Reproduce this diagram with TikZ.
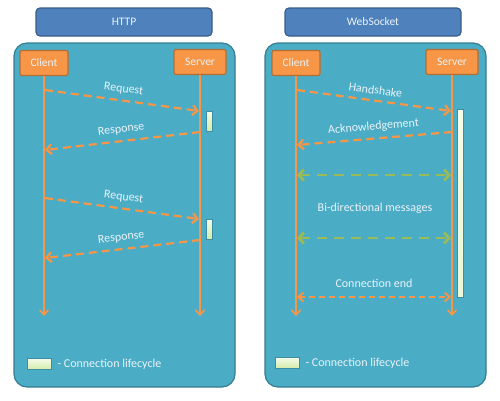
\documentclass[tikz,border=0pt]{standalone}
\usepackage{fontspec}
\setmainfont{Carlito}
\usetikzlibrary{arrows.meta}

\definecolor{titlefill}{HTML}{4F81BD}
\definecolor{titleline}{HTML}{385D8A}
\definecolor{panelfill}{HTML}{4BACC6}
\definecolor{panelline}{HTML}{357D91}
\definecolor{actorfill}{HTML}{F79646}
\definecolor{actorline}{HTML}{B66D31}
\definecolor{msggreen}{HTML}{9BBB59}
\definecolor{bartop}{HTML}{F5FBE8}
\definecolor{barbottom}{HTML}{D2ECAA}
\definecolor{barline}{HTML}{3D8EA5}
\definecolor{labeltext}{HTML}{EAF3F8}

\begin{document}
\begin{tikzpicture}[x=1pt,y=-1pt,
    titlebox/.style={draw=titleline,fill=titlefill,line width=1.2pt,rounded corners=4pt,
        minimum width=176pt,minimum height=28pt,text=labeltext,font=\fontsize{11.5}{13}\selectfont},
    panel/.style={draw=panelline,fill=panelfill,line width=1.2pt,rounded corners=13pt},
    actor/.style={draw=actorline,fill=actorfill,line width=1.2pt,rounded corners=2pt,
        minimum height=25pt,text=labeltext,font=\fontsize{11.5}{13}\selectfont},
    life/.style={draw=actorfill,line width=1.6pt,-{Straight Barb[length=5pt,width=9pt]}},
    msg/.style={draw=actorfill,line width=2.2pt,dash pattern=on 8pt off 5pt,
        -{Straight Barb[length=5pt,width=10pt]}},
    bimsg/.style={draw=msggreen,line width=2.8pt,dash pattern=on 10pt off 7pt,
        {Straight Barb[length=5pt,width=11pt]}-{Straight Barb[length=5pt,width=11pt]}},
    endmsg/.style={draw=actorfill,line width=1.9pt,dash pattern=on 6pt off 4pt,
        {Straight Barb[length=5pt,width=9pt]}-{Straight Barb[length=5pt,width=9pt]}},
    lifebar/.style={draw=barline,line width=0.5pt,top color=bartop,bottom color=barbottom,
        minimum width=6pt,inner sep=0pt},
    lbl/.style={text=labeltext,font=\fontsize{12}{14}\selectfont}]
\useasboundingbox (0,0) rectangle (500,400);

% HTTP
\node[titlebox] (httptitle) at (124,22) {HTTP};
\draw[panel] (14,43) rectangle (235,387);
\node[actor,minimum width=48pt] (hclient) at (44,63) {Client};
\node[actor,minimum width=52pt] (hserver) at (200,62) {Server};
\coordinate (hcend) at (44,316);
\coordinate (hsend) at (200,316);
\draw[life] (hclient.south) -- (hcend);
\draw[life] (hserver.south) -- (hsend);

\coordinate (hreqa) at (45,90);   \coordinate (hreqb) at (199,111);
\coordinate (hresa) at (200,132); \coordinate (hresb) at (45,150);
\coordinate (hreqc) at (45,198);  \coordinate (hreqd) at (199,219);
\coordinate (hresc) at (200,240); \coordinate (hresd) at (45,258);
\node[lifebar,minimum height=20pt] (hbarone) at (209,121) {};
\node[lifebar,minimum height=20pt] (hbartwo) at (209,229) {};
\draw[msg] (hreqa) -- node[lbl,sloped,above=2pt] {Request} (hreqb);
\draw[msg] (hresa) -- node[lbl,sloped,above=2pt] {Response} (hresb);
\draw[msg] (hreqc) -- node[lbl,sloped,above=2pt] {Request} (hreqd);
\draw[msg] (hresc) -- node[lbl,sloped,above=2pt] {Response} (hresd);

\node[lifebar,minimum width=24pt,minimum height=11pt] (hkey) at (39,364) {};
\node[lbl,anchor=west] (hkeytext) at (54,364) {- Connection lifecycle};

% WebSocket
\node[titlebox] (wstitle) at (373,22) {WebSocket};
\draw[panel] (265,43) rectangle (486,387);
\node[actor,minimum width=48pt] (wclient) at (296,63) {Client};
\node[actor,minimum width=52pt] (wserver) at (452,62) {Server};
\coordinate (wcend) at (296,316);
\coordinate (wsend) at (452,316);
\draw[life] (wclient.south) -- (wcend);
\draw[life] (wserver.south) -- (wsend);

\node[lifebar,minimum height=188pt,bottom color=bartop!70!barbottom] (wbar) at (460,203) {};
\coordinate (whska) at (297,90);  \coordinate (whskb) at (451,111);
\coordinate (wacka) at (452,132); \coordinate (wackb) at (297,145);
\coordinate (wbia) at (297,175);  \coordinate (wbib) at (451,175);
\coordinate (wbic) at (297,238);  \coordinate (wbid) at (451,238);
\coordinate (wenda) at (297,297); \coordinate (wendb) at (451,297);
\draw[msg] (whska) -- node[lbl,sloped,above=2pt] {Handshake} (whskb);
\draw[msg] (wacka) -- node[lbl,sloped,above=2pt] {Acknowledgement} (wackb);
\draw[bimsg] (wbia) -- (wbib);
\node[lbl] (wbitext) at (375,208) {Bi-directional messages};
\draw[bimsg] (wbic) -- (wbid);
\draw[endmsg] (wenda) -- node[lbl,above=5pt] {Connection end} (wendb);

\node[lifebar,minimum width=24pt,minimum height=11pt] (wkey) at (287,363) {};
\node[lbl,anchor=west] (wkeytext) at (302,363) {- Connection lifecycle};
\end{tikzpicture}
\end{document}
